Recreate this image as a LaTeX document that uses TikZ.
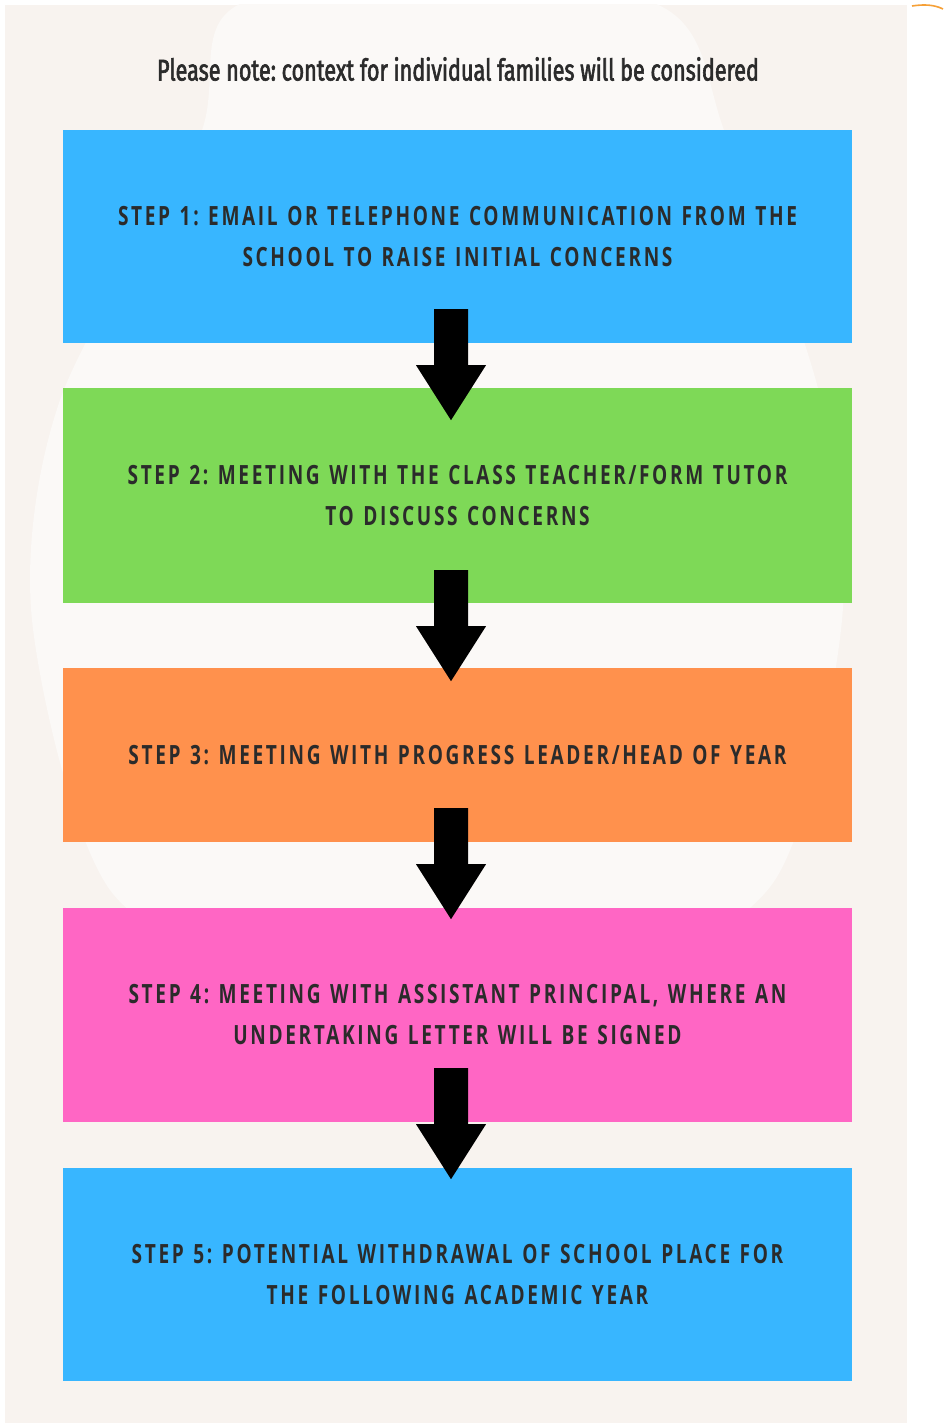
\documentclass[tikz,border=0pt]{standalone}
\usepackage{fontspec}
\setmainfont{Open Sans}
\newfontfamily\boxfont{Open Sans}[FakeStretch=0.72,LetterSpace=10,WordSpace=1.25]
\newfontfamily\titlefont{Fira Sans}[FakeStretch=0.72,FakeBold=2]
\definecolor{cream}{HTML}{F8F3EF}
\definecolor{lightcream}{HTML}{FBF9F7}
\definecolor{cblue}{HTML}{38B6FF}
\definecolor{cgreen}{HTML}{7ED957}
\definecolor{corange}{HTML}{FF914D}
\definecolor{cpink}{HTML}{FF66C4}
\definecolor{txt}{HTML}{2B2B2B}
\definecolor{arcorange}{HTML}{F6A037}
\tikzset{
  stepbox/.style={rectangle, inner sep=0pt, minimum width=789pt, text=txt,
    font=\boxfont\bfseries\frenchspacing\fontsize{26.5}{41}\selectfont, align=center},
  blockarrow/.style={fill=black}
}
\newcommand{\blockarrowat}[1]{%
  \fill[blockarrow] ([xshift=-17pt]#1) -- ([xshift=17pt]#1) -- ([xshift=17pt,yshift=-56pt]#1)
    -- ([xshift=35pt,yshift=-56pt]#1) -- ([yshift=-111pt]#1) -- ([xshift=-35pt,yshift=-56pt]#1)
    -- ([xshift=-17pt,yshift=-56pt]#1) -- cycle;}
\begin{document}
\frenchspacing
\begin{tikzpicture}[x=1pt,y=-1pt]
\useasboundingbox (0,0) rectangle (943,1423);
\fill[white] (0,0) rectangle (943,1423);
\fill[cream] (5,5) rectangle (907,1423);
\begin{scope}
\clip (5,5) rectangle (907,1423);
\fill[lightcream] plot[smooth cycle, tension=0.5] coordinates {(250,0) (198,140) (60,400) (32,620) (110,890) (300,990) (450,1010) (600,990) (775,880) (842,620) (821,400) (728,140) (645,0)};
\end{scope}
\draw[arcorange, line width=1.6pt] (912,6) .. controls (925,4) and (935,5) .. (943,9);

\node[font=\titlefont\fontsize{30}{33}\selectfont, text=txt] (title) at (458,69) {Please note: context for individual families will be considered};

\node[stepbox, fill=cblue, minimum height=213pt] (s1) at (457.5,236.5) {STEP 1: EMAIL OR TELEPHONE COMMUNICATION FROM THE\\SCHOOL TO RAISE INITIAL CONCERNS};
\node[stepbox, fill=cgreen, minimum height=215pt] (s2) at (457.5,495.5) {STEP 2: MEETING WITH THE CLASS TEACHER/FORM TUTOR\\TO DISCUSS CONCERNS};
\node[stepbox, fill=corange, minimum height=174pt] (s3) at (457.5,755) {STEP 3: MEETING WITH PROGRESS LEADER/HEAD OF YEAR};
\node[stepbox, fill=cpink, minimum height=214pt] (s4) at (457.5,1015) {STEP 4: MEETING WITH ASSISTANT PRINCIPAL, WHERE AN\\UNDERTAKING LETTER WILL BE SIGNED};
\node[stepbox, fill=cblue, minimum height=213pt] (s5) at (457.5,1274.5) {STEP 5: POTENTIAL WITHDRAWAL OF SCHOOL PLACE FOR\\THE FOLLOWING ACADEMIC YEAR};

\coordinate (a1) at ([yshift=34pt]s1.south -| 451,0);
\coordinate (a2) at ([yshift=33pt]s2.south -| 451,0);
\coordinate (a3) at ([yshift=34pt]s3.south -| 451,0);
\coordinate (a4) at ([yshift=54pt]s4.south -| 451,0);
\blockarrowat{a1}
\blockarrowat{a2}
\blockarrowat{a3}
\blockarrowat{a4}
\end{tikzpicture}
\end{document}
